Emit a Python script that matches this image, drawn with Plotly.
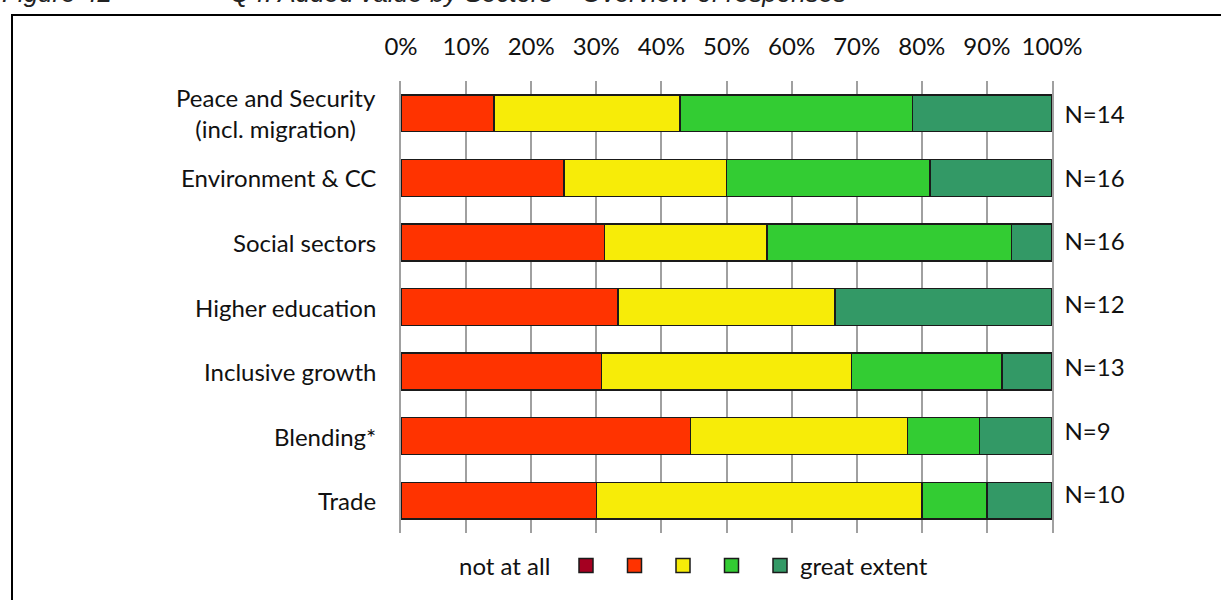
import plotly.graph_objects as go

# Sector rows, top to bottom
categories = [
    "Peace and Security<br>(incl. migration)",
    "Environment & CC",
    "Social sectors",
    "Higher education",
    "Inclusive growth",
    "Blending*",
    "Trade",
]
respondents = [14, 16, 16, 12, 13, 9, 10]

# Number of answers per rating level (1 = not at all ... 5 = great extent)
level_1 = [0, 0, 0, 0, 0, 0, 0]
level_2 = [2, 4, 5, 4, 4, 4, 3]
level_3 = [4, 4, 4, 4, 5, 3, 5]
level_4 = [5, 5, 6, 0, 3, 1, 1]
level_5 = [3, 3, 1, 4, 1, 1, 1]

x_tick_values = [0, 10, 20, 30, 40, 50, 60, 70, 80, 90, 100]
x_tick_labels = ["0%", "10%", "20%", "30%", "40%", "50%", "60%", "70%", "80%", "90%", "100%"]

levels = [level_1, level_2, level_3, level_4, level_5]
level_colors = ["#A50021", "#FF3300", "#F7EC08", "#33CC33", "#339966"]
n_labels = [f"N={n}" for n in respondents]

FONT = "Lato"
FS = 24
TEXT = "#111111"
GRID = "#a0a0a0"
W, H = 1221, 600
L, R, T, B = 401, 169, 81, 67          # plot area margins in px
PW, PH = W - L - R, H - T - B


def px_x(px):
    return (px - L) / PW


def px_y(py):
    return (H - B - py) / PH


fig = go.Figure()
for counts, color in zip(levels, level_colors):
    share = [100 * c / n for c, n in zip(counts, respondents)]
    fig.add_trace(go.Bar(
        y=categories, x=share, orientation="h",
        marker=dict(color=color, line=dict(color="#1a1a1a", width=1.5)),
        showlegend=False, hoverinfo="skip",
    ))

# Invisible carrier trace so the right-hand axis with the N labels is drawn
fig.add_trace(go.Scatter(x=[None], y=[None], yaxis="y2", showlegend=False, hoverinfo="skip"))

annotations = []
for cat in categories:
    annotations.append(dict(
        x=0, xref="paper", xanchor="right", xshift=-23,
        y=cat, yref="y", yanchor="middle",
        text=cat, align="center", showarrow=False,
        font=dict(family=FONT, size=FS, color=TEXT),
    ))

# Figure caption (runs off the top of the page)
caption_font = dict(family="Liberation Sans", size=26, color="#222222", style="italic")
annotations.append(dict(
    x=px_x(0), y=px_y(10), xref="paper", yref="paper", xanchor="left", yanchor="bottom",
    text="Figure 42", showarrow=False, font=caption_font,
))
annotations.append(dict(
    x=px_x(228), y=px_y(10), xref="paper", yref="paper", xanchor="left", yanchor="bottom",
    text="Q4: Added value by Sectors – Overview of responses", showarrow=False,
    font=caption_font,
))

# Legend row
legend_cx = [586, 634.5, 683, 731.5, 780]
legend_cy = 565.5
half = 7
shapes = [dict(
    type="rect", xref="paper", yref="paper",
    x0=px_x(12), x1=px_x(1260), y0=px_y(15), y1=px_y(640),
    line=dict(color="#000000", width=2), fillcolor="rgba(0,0,0,0)", layer="above",
)]
for cx, color in zip(legend_cx, level_colors):
    shapes.append(dict(
        type="rect", xref="paper", yref="paper",
        x0=px_x(cx - half), x1=px_x(cx + half),
        y0=px_y(legend_cy + half), y1=px_y(legend_cy - half),
        fillcolor=color, line=dict(color="#1a1a1a", width=1.5),
    ))
annotations.append(dict(
    x=px_x(552), y=px_y(legend_cy), xref="paper", yref="paper",
    xanchor="right", yanchor="middle", text="not at all", showarrow=False,
    font=dict(family=FONT, size=FS, color=TEXT),
))
annotations.append(dict(
    x=px_x(798), y=px_y(legend_cy), xref="paper", yref="paper",
    xanchor="left", yanchor="middle", text="great extent", showarrow=False,
    font=dict(family=FONT, size=FS, color=TEXT),
))

fig.update_layout(
    width=W, height=H,
    margin=dict(l=L, r=R, t=T, b=B, autoexpand=False),
    barmode="stack", bargap=0.43,
    plot_bgcolor="white", paper_bgcolor="white",
    font=dict(family=FONT, size=FS, color=TEXT),
    xaxis=dict(
        side="top", range=[0, 100], tickmode="array",
        tickvals=x_tick_values, ticktext=x_tick_labels,
        showgrid=True, gridcolor=GRID, gridwidth=1.5,
        zeroline=False, showline=False,
        ticks="outside", ticklen=15, tickcolor="rgba(0,0,0,0)",
        tickfont=dict(family=FONT, size=FS, color=TEXT), fixedrange=True,
    ),
    yaxis=dict(
        categoryorder="array", categoryarray=categories, autorange="reversed",
        showticklabels=False, showgrid=False, zeroline=False,
        showline=True, linecolor=GRID, linewidth=1.5,
        fixedrange=True,
    ),
    yaxis2=dict(
        overlaying="y", side="right", range=[6.605, -0.534],
        tickmode="array", tickvals=list(range(len(n_labels))), ticktext=n_labels,
        showgrid=False, zeroline=False,
        showline=True, linecolor=GRID, linewidth=1.5,
        ticks="outside", ticklen=6, tickcolor="rgba(0,0,0,0)",
        tickfont=dict(family=FONT, size=FS, color=TEXT), fixedrange=True,
    ),
    annotations=annotations,
    shapes=shapes,
)

fig.write_html("out.html")
